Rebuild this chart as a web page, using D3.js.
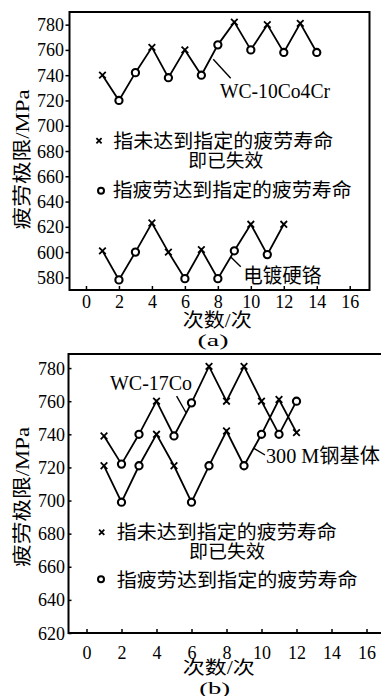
<!DOCTYPE html>
<html><head><meta charset="utf-8">
<script src="https://cdn.jsdelivr.net/npm/d3@7"></script>
<style>
body{margin:0;background:#fff}
svg{display:block}
text{font-family:"Liberation Serif","Times New Roman","Noto Sans CJK SC",serif;fill:#000}
</style></head>
<body><svg id="c" width="381" height="696"></svg>
<script>
// ---------- data ----------
const xTicks = [0,2,4,6,8,10,12,14,16];
const yTicksA = [580,600,620,640,660,680,700,720,740,760,780];
const yTicksB = [620,640,660,680,700,720,740,760,780];

const cyclesWC10 = [1,2,3,4,5,6,7,8,9,10,11,12,13,14];
const wc10      = [740,720,742,762,738,760,740,764,782,760,780,758,781,758];
const wc10Mark  = ['x','o','o','x','o','x','o','o','x','o','x','o','x','o'];

const cyclesCr  = [1,2,3,4,5,6,7,8,9,10,11,12];
const chrome    = [601,578,600,623,600,579,602,579,601,622,598,622];
const chromeMark= ['x','o','o','x','x','o','x','o','o','x','o','x'];

const cyclesB   = [1,2,3,4,5,6,7,8,9,10,11,12];
const wc17      = [739,722,740,760,739,759,781,760,781,760,740,760];
const wc17Mark  = ['x','o','o','x','o','o','x','x','x','x','o','o'];
const steel300  = [721,699,721,740,721,699,721,742,721,740,761,741];
const steelMark = ['x','o','o','x','x','o','o','x','o','o','x','x'];

const legendFail = "指未达到指定的疲劳寿命";
const legendFail2 = "即已失效";
const legendOk = "指疲劳达到指定的疲劳寿命";
const yLabel = "疲劳极限/MPa";
const xLabel = "次数/次";

// ---------- drawing ----------
const svg = d3.select("#c");

function cross(g, cx, cy, h, sw){
  g.append("path").attr("d",`M${cx-h},${cy-h}L${cx+h},${cy+h}M${cx-h},${cy+h}L${cx+h},${cy-h}`)
   .attr("stroke","#000").attr("stroke-width",sw).attr("fill","none");
}
function ring(g, cx, cy, r, sw){
  g.append("circle").attr("cx",cx).attr("cy",cy).attr("r",r)
   .attr("fill","#fff").attr("stroke","#000").attr("stroke-width",sw);
}
function series(g, x, y, xs, vals, marks){
  const line = d3.line().x((d,i)=>x(xs[i])).y(d=>y(d));
  g.append("path").datum(vals).attr("d",line).attr("fill","none")
   .attr("stroke","#000").attr("stroke-width",1.8).attr("stroke-linejoin","miter");
  vals.forEach((v,i)=>{
    if(marks[i]==='x') cross(g, x(xs[i]), y(v), 3.3, 1.8);
    else ring(g, x(xs[i]), y(v), 3.6, 2.1);
  });
}
function leader(g, x, y, p){
  g.append("line").attr("x1",x(p[0])).attr("y1",y(p[1])).attr("x2",x(p[2])).attr("y2",y(p[3]))
   .attr("stroke","#000").attr("stroke-width",1.4);
}
function txt(g, s, x, y, opt){
  const t = g.append("text").attr("x",x).attr("y",y).text(s)
    .attr("font-size",opt.size||20).attr("text-anchor",opt.anchor||"start");
  if(opt.central) t.attr("dominant-baseline","central");
  if(opt.len) t.attr("textLength",opt.len).attr("lengthAdjust","spacingAndGlyphs");
  if(opt.transform) t.attr("transform",opt.transform);
  return t;
}

// ===== Panel (a) =====
const gA = svg.append("g");
const xA = d3.scaleLinear().domain([-1,17.2]).range([69.5,369.5]);
const yA = d3.scaleLinear().domain([570,790]).range([290,12]);

const axA = gA.append("g").attr("transform","translate(0,290)")
  .call(d3.axisBottom(xA).tickValues(xTicks).tickSize(-4).tickFormat(d3.format("d")));
axA.select(".domain").remove();
axA.selectAll("line").attr("stroke-width",1.5);
axA.selectAll("text").attr("dy",null).attr("y",17.5).attr("font-size",18).attr("font-family",null);

const ayA = gA.append("g").attr("transform","translate(69.5,0)")
  .call(d3.axisLeft(yA).tickValues(yTicksA).tickSize(4));
ayA.select(".domain").remove();
ayA.selectAll("line").attr("stroke-width",1.5);
ayA.selectAll("text").attr("dy",null).attr("x",-5.5).attr("y",6).attr("font-size",18).attr("font-family",null);

gA.append("rect").attr("x",xA.range()[0]).attr("y",yA.range()[1])
  .attr("width",xA.range()[1]-xA.range()[0]).attr("height",yA.range()[0]-yA.range()[1])
  .attr("fill","none").attr("stroke","#000").attr("stroke-width",2);

series(gA, xA, yA, cyclesWC10, wc10, wc10Mark);
series(gA, xA, yA, cyclesCr, chrome, chromeMark);

leader(gA, xA, yA, [7.72,752.6,8.78,737.5]);
leader(gA, xA, yA, [8.80,595.9,9.39,588.4]);
txt(gA, "WC-10Co4Cr", 220, 98.3, {size:20, len:110});
txt(gA, "电镀硬铬", 243.3, 276, {size:20, central:true, len:78});

cross(gA, 99, 140.7, 2.6, 1.8);
txt(gA, legendFail, 113.3, 141.2, {size:19.5, central:true, len:220});
txt(gA, legendFail2, 225.8, 160.5, {size:18.5, central:true, anchor:"middle", len:75});
ring(gA, 101, 190.7, 3, 2);
txt(gA, legendOk, 112.7, 190, {size:19.5, central:true, len:239});

txt(gA, yLabel, 0, 0, {size:19, central:true, anchor:"middle", len:140, transform:"translate(22,159.5) rotate(-90)"});
txt(gA, xLabel, 217.2, 320, {size:19, central:true, anchor:"middle", len:69});
txt(gA, "(a)", 213, 345.5, {size:17, anchor:"middle", len:31});

// ===== Panel (b) =====
const gB = svg.append("g");
const xB = d3.scaleLinear().domain([-1,17]).range([69,384]);
const yB = d3.scaleLinear().domain([620,788.5]).range([633,354]);

const axB = gB.append("g").attr("transform","translate(0,633)")
  .call(d3.axisBottom(xB).tickValues(xTicks).tickSize(-4).tickFormat(d3.format("d")));
axB.select(".domain").remove();
axB.selectAll("line").attr("stroke-width",1.5);
axB.selectAll("text").attr("dy",null).attr("y",25.5).attr("font-size",18).attr("font-family",null);

const ayB = gB.append("g").attr("transform","translate(68.5,0)")
  .call(d3.axisLeft(yB).tickValues(yTicksB).tickSize(-3));
ayB.select(".domain").remove();
ayB.selectAll("line").attr("stroke-width",1.5);
ayB.selectAll("text").attr("dy",null).attr("x",-3.5).attr("y",6).attr("font-size",18).attr("font-family",null);

gB.append("rect").attr("x",xB.range()[0]-0.5).attr("y",yB.range()[1])
  .attr("width",xB.range()[1]-xB.range()[0]).attr("height",yB.range()[0]-yB.range()[1])
  .attr("fill","none").attr("stroke","#000").attr("stroke-width",2);

series(gB, xB, yB, cyclesB, wc17, wc17Mark);
series(gB, xB, yB, cyclesB, steel300, steelMark);

leader(gB, xB, yB, [5.15,763.1,5.69,753]);
leader(gB, xB, yB, [9.57,731.5,10.2,727.5]);
txt(gB, "WC-17Co", 110, 390, {size:20, len:82});
txt(gB, "300 M钢基体", 266, 462.7, {size:20, len:114});

cross(gB, 101.7, 532.3, 2.6, 1.8);
txt(gB, legendFail, 116.7, 532.3, {size:19.5, central:true, len:220});
txt(gB, legendFail2, 227, 551.8, {size:18.5, central:true, anchor:"middle", len:76});
ring(gB, 101, 579.3, 3, 2);
txt(gB, legendOk, 116.7, 580.5, {size:19.5, central:true, len:241});

txt(gB, yLabel, 0, 0, {size:19, central:true, anchor:"middle", len:140, transform:"translate(22,497) rotate(-90)"});
txt(gB, xLabel, 218.8, 668, {size:18.5, central:true, anchor:"middle", len:72});
txt(gB, "(b)", 214.7, 693.5, {size:17, anchor:"middle", len:31});
</script>
</body></html>
